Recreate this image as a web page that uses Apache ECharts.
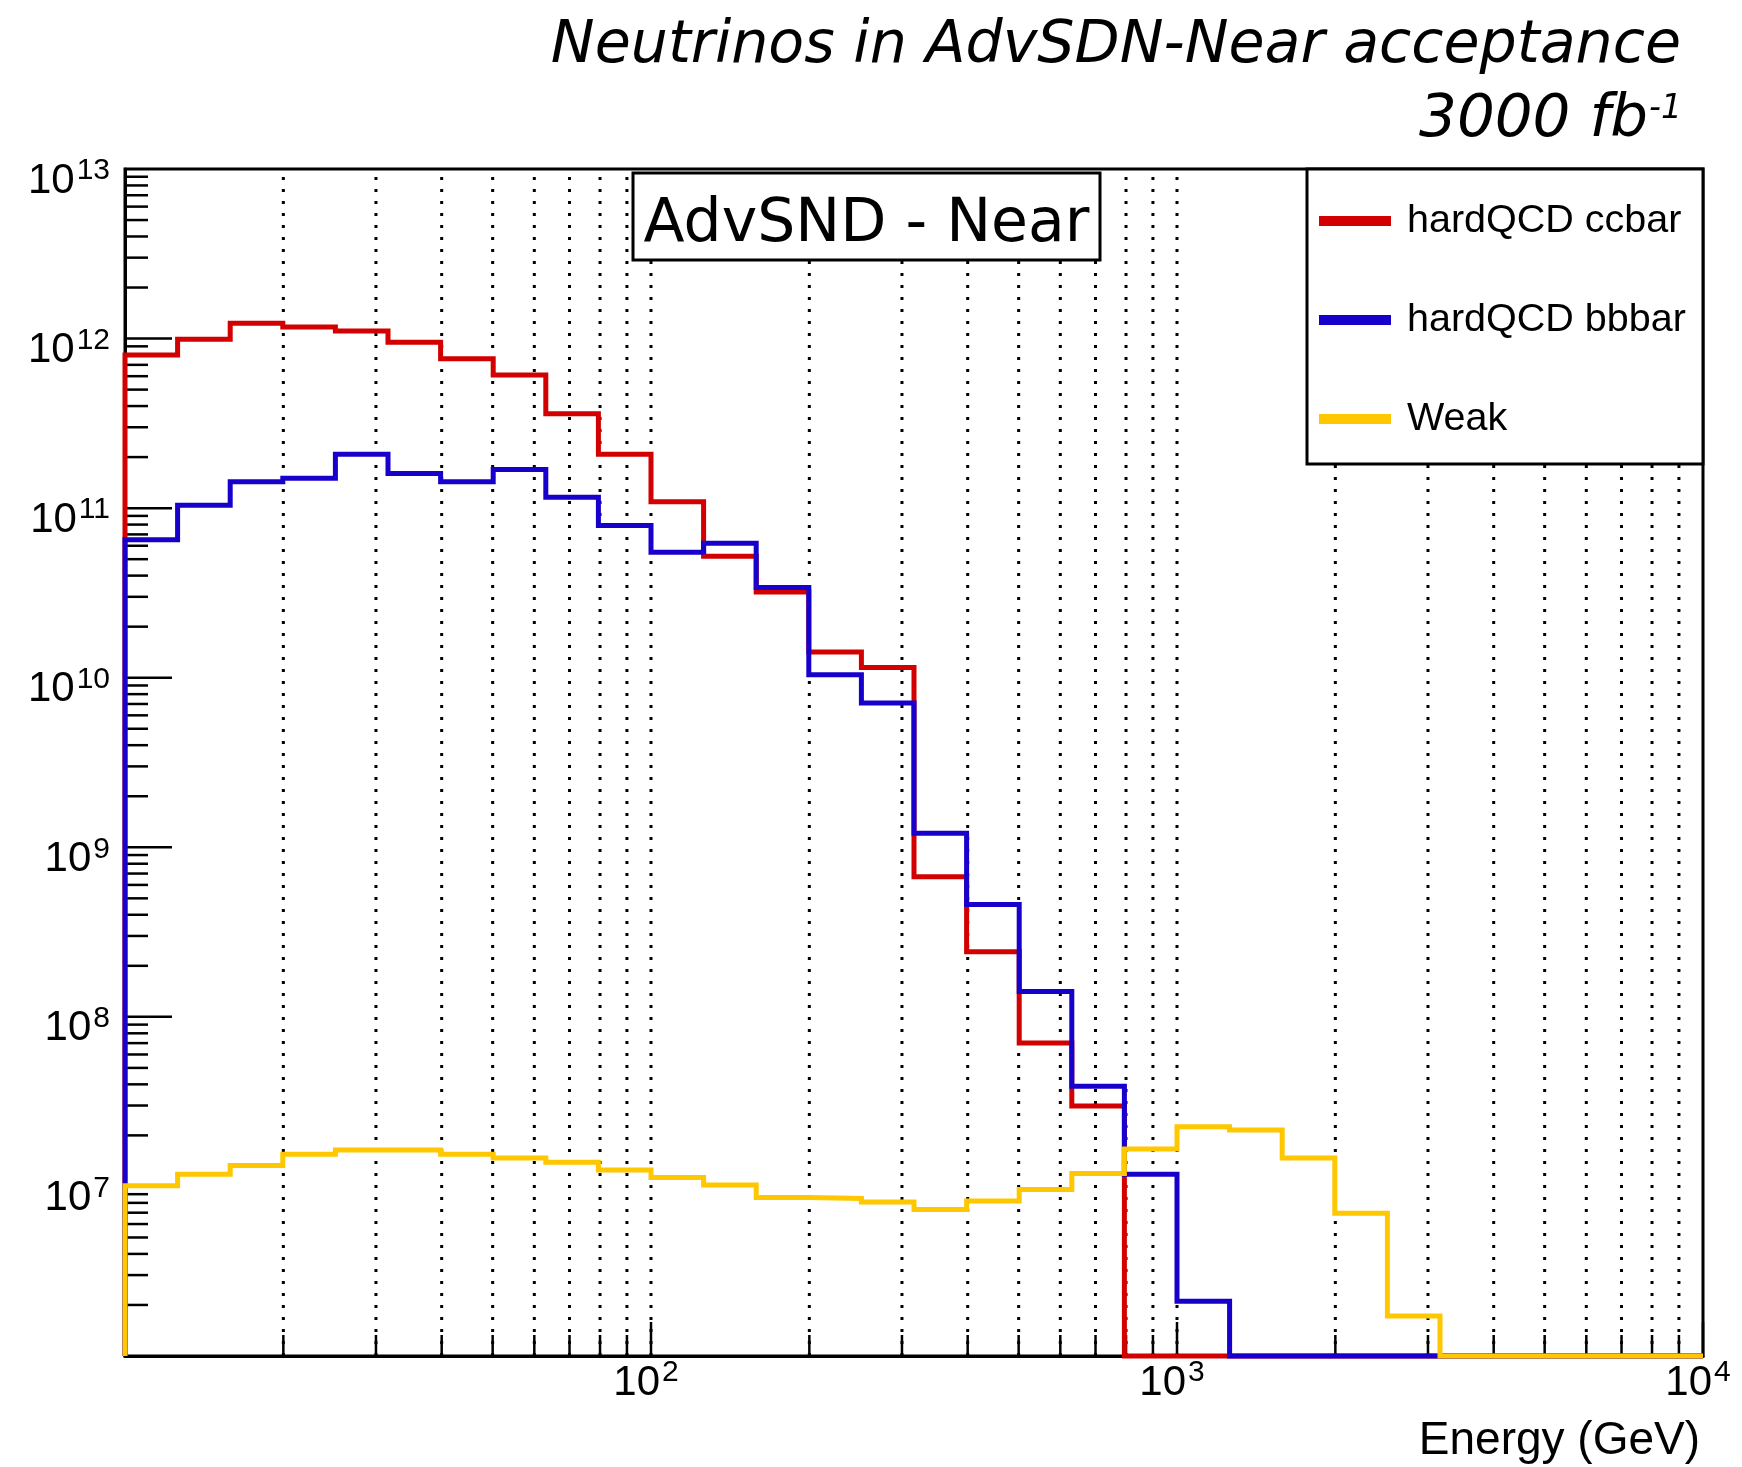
<!DOCTYPE html>
<html><head><meta charset="utf-8">
<script src="https://cdn.jsdelivr.net/npm/echarts@6/dist/echarts.min.js"></script>
<style>html,body{margin:0;padding:0;background:#fff}#c{width:1742px;height:1467px}</style>
</head><body><div id="c"></div>
<script>
// ---- data ----
const binEdges = [10, 12.589, 15.849, 19.953, 25.119, 31.623, 39.811, 50.119, 63.096, 79.433,
  100, 125.89, 158.49, 199.53, 251.19, 316.23, 398.11, 501.19, 630.96, 794.33,
  1000, 1258.9, 1584.9, 1995.3, 2511.9, 3162.3, 3981.1, 5011.9, 6309.6, 7943.3, 10000];
const seriesNames = ['hardQCD ccbar', 'hardQCD bbbar', 'Weak'];
const ccbar = [8.0e11, 9.9e11, 1.23e12, 1.17e12, 1.11e12, 9.5e11, 7.6e11, 6.1e11, 3.6e11, 2.08e11,
  1.09e11, 5.2e10, 3.2e10, 1.42e10, 1.15e10, 6.7e8, 2.42e8, 7.0e7, 2.98e7, 0,
  0, 0, 0, 0, 0, 0, 0, 0, 0, 0];
const bbbar = [6.5e10, 1.04e11, 1.43e11, 1.50e11, 2.08e11, 1.60e11, 1.43e11, 1.69e11, 1.16e11, 7.9e10,
  5.5e10, 6.2e10, 3.4e10, 1.04e10, 7.1e9, 1.21e9, 4.6e8, 1.41e8, 3.9e7, 1.18e7,
  2.1e6, 0, 0, 0, 0, 0, 0, 0, 0, 0];
const weak = [1.01e7, 1.18e7, 1.33e7, 1.55e7, 1.64e7, 1.64e7, 1.55e7, 1.47e7, 1.39e7, 1.25e7,
  1.13e7, 1.02e7, 8.6e6, 8.5e6, 8.1e6, 7.3e6, 8.2e6, 9.6e6, 1.19e7, 1.66e7,
  2.25e7, 2.15e7, 1.47e7, 6.95e6, 1.72e6, 0, 0, 0, 0, 0];
const seriesColors = ['#d20000', '#1800cc', '#fec700'];
const xMin = 10, xMax = 10000, yMin = 1e6, yMax = 1e13;
const xMajorTicks = [100, 1000, 10000];
const xMinorTicks = [20, 30, 40, 50, 60, 70, 80, 90, 200, 300, 400, 500, 600, 700, 800, 900,
  2000, 3000, 4000, 5000, 6000, 7000, 8000, 9000];
const xGridLines = [20, 30, 40, 50, 60, 70, 80, 90, 100, 200, 300, 400, 500, 600, 700, 800, 900,
  1000, 2000, 3000, 4000, 5000, 6000, 7000, 8000, 9000];
const xLabelValues = [100, 1000, 10000];
const yMajorTicks = [1e7, 1e8, 1e9, 1e10, 1e11, 1e12];
const yLabelValues = [1e7, 1e8, 1e9, 1e10, 1e11, 1e12, 1e13];
const yMinorMantissas = [2, 3, 4, 5, 6, 7, 8, 9];
const yDecades = [1e6, 1e7, 1e8, 1e9, 1e10, 1e11, 1e12];
const titleLine1 = 'Neutrinos in AdvSDN-Near acceptance';
const titleLine2Base = '3000 fb';
const titleLine2Sup = '-1';
const boxText = 'AdvSND - Near';
const xAxisName = 'Energy (GeV)';

// ---- build ----
function histPoints(vals) {
  const pts = [[binEdges[0], yMin]];
  vals.forEach((v, i) => pts.push([binEdges[i], v > 0 ? v : yMin]));
  const last = vals[vals.length - 1];
  pts.push([binEdges[binEdges.length - 1], last > 0 ? last : yMin]);
  return pts;
}
const tickData = [];
xMinorTicks.forEach(x => tickData.push([x, yMin, 21, 0]));
xMajorTicks.forEach(x => tickData.push([x, yMin, 34, 0]));
yDecades.forEach(d => yMinorMantissas.forEach(m => tickData.push([xMin, m * d, 23, 1])));
yMajorTicks.forEach(y => tickData.push([xMin, y, 47, 1]));
const gridData = xGridLines.map(x => [x, yMin]);
const labelData = [];
xLabelValues.forEach(x => labelData.push([x, yMin, 0]));
yLabelValues.forEach(y => labelData.push([xMin, y, 1]));

function expOf(v) { return Math.round(Math.log10(v)); }
const FF = 'Liberation Sans';
function tok(size, lh, pad) {
  return {font: size + 'px "Liberation Sans"', fontFamily: FF, fontSize: size, fontWeight: 'normal',
    fill: '#000', color: '#000', lineHeight: lh, verticalAlign: 'top', padding: pad};
}
const yRich = {b: tok(42, 42, [12, 0, 0, 0]), s: tok(30, 30, [8, 0, 0, 2])};
const xRich = {b: tok(42, 42, [4, 0, 0, 0]), s: tok(30, 30, [0, 0, 0, 2])};

const histSeries = [ccbar, bbbar, weak].map((vals, i) => ({
  name: seriesNames[i], type: 'line', step: 'end', data: histPoints(vals),
  showSymbol: false, symbol: 'none', clip: false, z: 2,
  color: seriesColors[i],
  lineStyle: {color: seriesColors[i], width: 5, join: 'miter', cap: 'butt'},
  itemStyle: {color: seriesColors[i], borderWidth: 0},
  emphasis: {disabled: true}, silent: true
}));

const option = {
  animation: false,
  backgroundColor: '#fff',
  grid: {left: 125, top: 169, width: 1578, height: 1187, show: true, borderColor: '#000', borderWidth: 3,
    backgroundColor: 'transparent', containLabel: false, outerBoundsMode: 'none'},
  title: [
    {text: titleLine1, right: 61, top: 17, padding: 0,
      textStyle: {fontFamily: 'DejaVu Sans', fontStyle: 'italic', fontWeight: 'normal', fontSize: 58.6, lineHeight: 59, color: '#000'}},
    {text: '{a|' + titleLine2Base + '}{s|' + titleLine2Sup + '}', right: 60, top: 91, padding: 0,
      textStyle: {fontWeight: 'normal', fontStyle: 'italic', fontFamily: 'DejaVu Sans', rich: {
        a: {fontFamily: 'DejaVu Sans', fontStyle: 'italic', fontWeight: 'normal', fontSize: 59.5, lineHeight: 59, color: '#000', verticalAlign: 'top'},
        s: {fontFamily: 'DejaVu Sans', fontStyle: 'italic', fontWeight: 'normal', fontSize: 33, lineHeight: 33, color: '#000', verticalAlign: 'top', padding: [2, 0, 0, 1]}
      }}}
  ],
  legend: {
    data: seriesNames, orient: 'vertical', left: 1319, top: 201, padding: 0, itemGap: 59,
    itemWidth: 72, itemHeight: 10, icon: 'rect', selectedMode: false, z: 10,
    itemStyle: {borderWidth: 0},
    textStyle: {fontFamily: FF, fontSize: 39.5, lineHeight: 40, color: '#000', padding: [0, 0, 0, 11]}
  },
  graphic: [
    {type: 'rect', z: 5, shape: {x: 1307, y: 169, width: 396, height: 295},
      style: {fill: '#fff', stroke: '#000', lineWidth: 3}},
    {type: 'rect', z: 5, shape: {x: 633, y: 173, width: 467, height: 87},
      style: {fill: '#fff', stroke: '#000', lineWidth: 3}},
    {type: 'text', z: 6, x: 866.5, y: 225,
      style: {text: boxText, font: '60px "DejaVu Sans"', fill: '#000', align: 'center', verticalAlign: 'middle',
        textAlign: 'center', textVerticalAlign: 'middle'}},
    {type: 'text', z: 6, x: 1700, y: 1441,
      style: {text: xAxisName, font: '46px "Liberation Sans"', fill: '#000', align: 'right', verticalAlign: 'middle',
        textAlign: 'right', textVerticalAlign: 'middle'}}
  ],
  xAxis: {
    type: 'log', logBase: 10, min: xMin, max: xMax, splitNumber: 3,
    axisLine: {show: true, onZero: false, lineStyle: {color: '#000', width: 3}},
    axisTick: {show: false}, minorTick: {show: false}, splitLine: {show: false},
    axisLabel: {show: false}
  },
  yAxis: {
    type: 'log', logBase: 10, min: yMin, max: yMax, splitNumber: 7,
    axisLine: {show: true, onZero: false, lineStyle: {color: '#000', width: 3}},
    axisTick: {show: false}, minorTick: {show: false}, splitLine: {show: false},
    axisLabel: {show: false}
  },
  series: [
    {type: 'custom', name: 'grid', silent: true, z: 1, clip: false, data: gridData, encode: {x: 0, y: 1},
      renderItem: (params, api) => {
        const b = api.coord([api.value(0), yMin]);
        const t = api.coord([api.value(0), yMax]);
        return {type: 'line', shape: {x1: b[0], y1: b[1], x2: t[0], y2: t[1]},
          style: {stroke: '#000', lineWidth: 3, lineDash: [3, 9]}};
      }},
    {type: 'custom', name: 'ticks', silent: true, z: 1, clip: false, data: tickData, encode: {x: 0, y: 1},
      renderItem: (params, api) => {
        const p = api.coord([api.value(0), api.value(1)]);
        const len = api.value(2), dir = api.value(3);
        const shape = dir === 0 ? {x1: p[0], y1: p[1], x2: p[0], y2: p[1] - len}
                                : {x1: p[0], y1: p[1], x2: p[0] + len, y2: p[1]};
        return {type: 'line', shape: shape, style: {stroke: '#000', lineWidth: 2.5}};
      }},
    {type: 'custom', name: 'axisLabels', silent: true, z: 3, clip: false, data: labelData, encode: {x: 0, y: 1},
      renderItem: (params, api) => {
        const isY = api.value(2) === 1;
        const v = isY ? api.value(1) : api.value(0);
        const p = api.coord([api.value(0), api.value(1)]);
        const txt = '{b|10}{s|' + expOf(v) + '}';
        return {type: 'text', x: isY ? p[0] - 15 : p[0] - 5, y: isY ? p[1] : p[1] + 2,
          style: {text: txt, rich: isY ? yRich : xRich, fill: '#000', font: '42px "Liberation Sans"',
            align: isY ? 'right' : 'center', verticalAlign: isY ? 'middle' : 'top',
            textAlign: isY ? 'right' : 'center', textVerticalAlign: isY ? 'middle' : 'top'}};
      }},
    ...histSeries
  ]
};
const chart = echarts.init(document.getElementById('c'), null, {renderer: 'canvas', width: 1742, height: 1467});
chart.setOption(option);
</script>
</body></html>
